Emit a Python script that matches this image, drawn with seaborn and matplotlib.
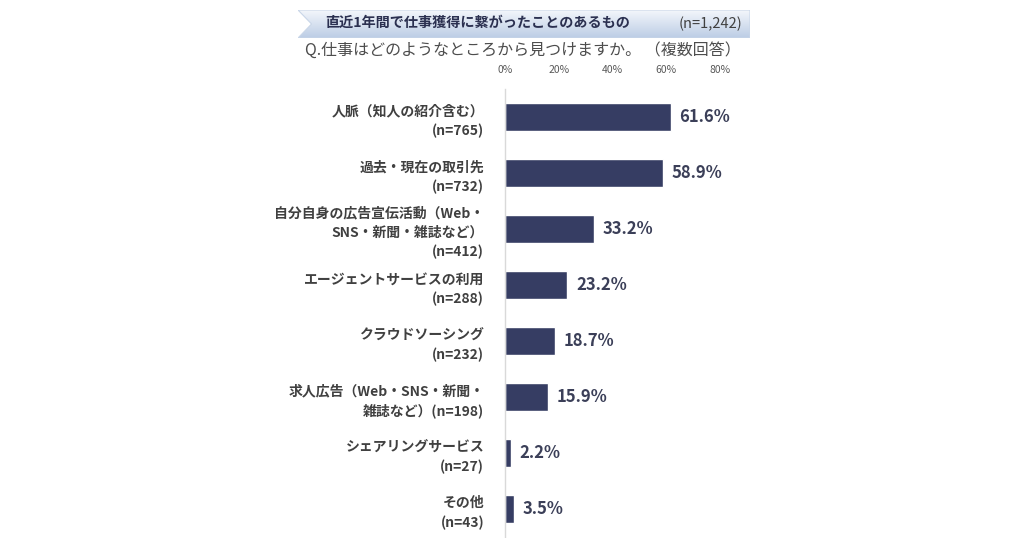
import numpy as np
import pandas as pd
import matplotlib
matplotlib.use("Agg")
import matplotlib.pyplot as plt
from matplotlib.patches import Polygon
import seaborn as sns

categories = [
    "人脈（知人の紹介含む）\n(n=765)",
    "過去・現在の取引先\n(n=732)",
    "自分自身の広告宣伝活動（Web・\nSNS・新聞・雑誌など）\n(n=412)",
    "エージェントサービスの利用\n(n=288)",
    "クラウドソーシング\n(n=232)",
    "求人広告（Web・SNS・新聞・\n雑誌など）(n=198)",
    "シェアリングサービス\n(n=27)",
    "その他\n(n=43)",
]
values = [61.6, 58.9, 33.2, 23.2, 18.7, 15.9, 2.2, 3.5]
x_ticks = [0, 20, 40, 60, 80]
x_tick_labels = ["0%", "20%", "40%", "60%", "80%"]
title_text = "直近1年間で仕事獲得に繋がったことのあるもの"
n_text = "(n=1,242)"
subtitle_text = "Q.仕事はどのようなところから見つけますか。 （複数回答）"

sns.set_theme(style="white")
plt.rcParams["font.family"] = ["Noto Sans CJK JP", "DejaVu Sans"]

W, H = 1024, 538
fig = plt.figure(figsize=(W / 100, H / 100), dpi=100)
fig.patch.set_facecolor("white")

# main axes
ax = fig.add_axes([505 / W, 1 - 537 / H, (720 - 505) / W, (537 - 89) / H])
df = pd.DataFrame({"cat": categories, "val": values})
sns.barplot(data=df, y="cat", x="val", orient="h", color="#363d63",
            width=0.5, saturation=1, ax=ax)
ax.set_xlim(0, 80)
ax.set_ylim(len(categories) - 0.5, -0.5)
ax.set_xlabel("")
ax.set_ylabel("")
ax.xaxis.tick_top()
ax.set_xticks(x_ticks)
ax.set_xticklabels(x_tick_labels, fontsize=7.5, color="#595959")
ax.tick_params(axis="x", length=0, pad=10)
ax.tick_params(axis="y", length=0, pad=15)
for lbl in ax.get_yticklabels():
    lbl.set_fontsize(10)
    lbl.set_fontweight("bold")
    lbl.set_color("#404040")
    lbl.set_linespacing(1.45)
    lbl.set_horizontalalignment("right")
for s in ["top", "right", "bottom"]:
    ax.spines[s].set_visible(False)
ax.spines["left"].set_color("#d9d9d9")
ax.spines["left"].set_linewidth(1)
ax.patch.set_alpha(0)

for i, v in enumerate(values):
    ax.text(v + 3.2, i, f"{v:.1f}%", va="center", ha="left",
            fontsize=12, fontweight="bold", color="#3b3f58")

# title box with gradient
bx = fig.add_axes([298 / W, 1 - 38 / H, (750 - 298) / W, 28 / H])
bx.set_xlim(0, 1)
bx.set_ylim(0, 1)
bx.axis("off")
grad = np.linspace(0, 1, 64).reshape(-1, 1)
cmap = matplotlib.colors.LinearSegmentedColormap.from_list(
    "g", ["#f3f6fb", "#bccde5"])
im = bx.imshow(grad, extent=[0, 1, 0, 1], aspect="auto", cmap=cmap,
               origin="upper")
poly = Polygon([[0, 1], [1, 1], [1, 0], [0, 0], [0.03, 0.5]],
               closed=True, transform=bx.transAxes, facecolor="none",
               edgecolor="#c9d6e8", linewidth=0.8)
bx.add_patch(poly)
im.set_clip_path(poly)

fig.text(325 / W, 1 - 23 / H, title_text, fontsize=10.2, fontweight="bold",
         color="#2b3050", ha="left", va="center")
fig.text(742 / W, 1 - 24 / H, n_text, fontsize=10.5, color="#404040",
         ha="right", va="center")
fig.text(305 / W, 1 - 50 / H, subtitle_text, fontsize=11.5, color="#4d4d4d",
         ha="left", va="center")

fig.savefig("out.png", dpi=100, facecolor="white")
